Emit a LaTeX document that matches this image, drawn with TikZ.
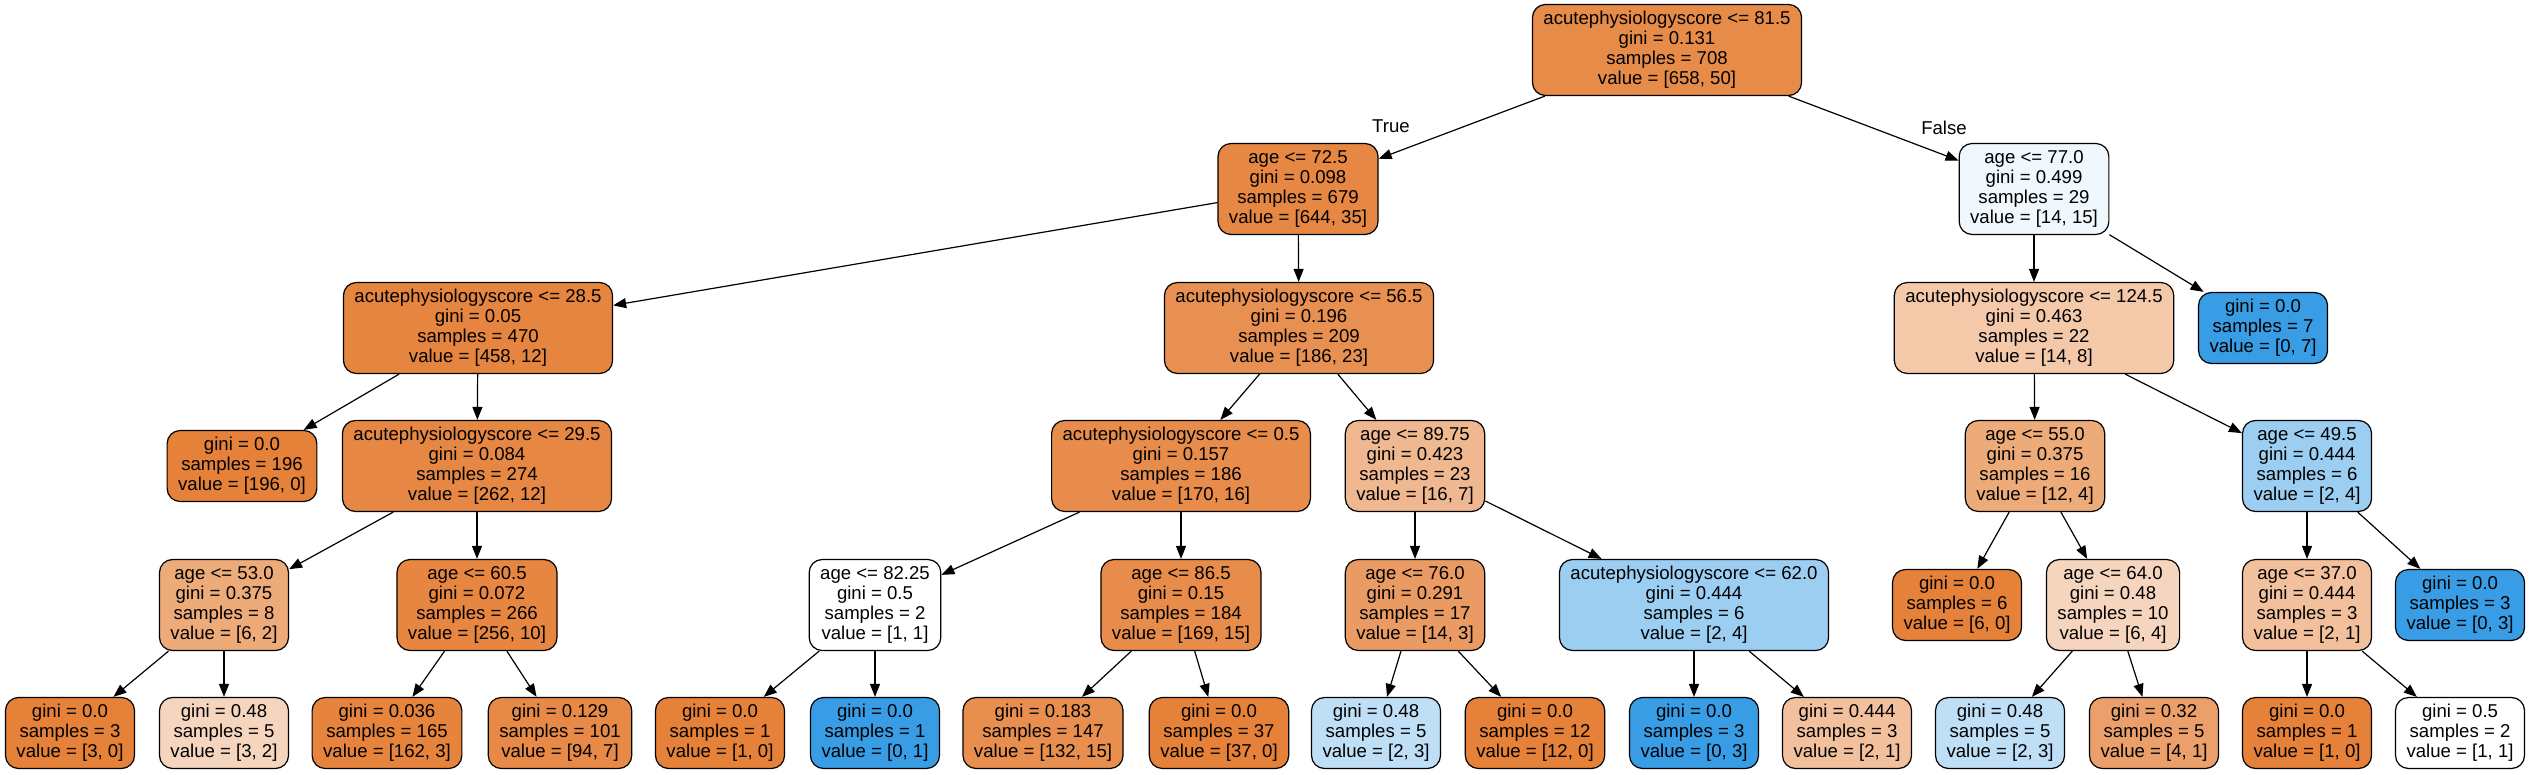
\documentclass[tikz,border=0pt]{standalone}
\usepackage{fontspec}
\setmainfont{Liberation Sans}
\usetikzlibrary{arrows.meta}
\definecolor{clzero}{RGB}{229,129,57}
\definecolor{clone}{RGB}{57,157,229}

\begin{document}
\begin{tikzpicture}[x=1pt, y=-1pt, line join=round, >={Triangle[length=13pt,width=10pt]},
	every node/.style={font=\fontsize{18.6}{20}\selectfont},
	splitbox/.style={draw, line width=1.2pt, rounded corners=13pt, align=center, inner xsep=11pt, inner ysep=0pt, minimum height=91pt},
	leafbox/.style={splitbox, minimum height=71pt},
	link/.style={->, line width=1.2pt}]
	\useasboundingbox (0,0) rectangle (2531,775);
	% level 0 - 2
	\node[splitbox, fill=clzero!92!white] (root) at (1667,50) {acutephysiologyscore <= 81.5\\gini = 0.131\\samples = 708\\value = [658, 50]};
	\node[splitbox, fill=clzero!95!white] (n1) at (1298,189) {age <= 72.5\\gini = 0.098\\samples = 679\\value = [644, 35]};
	\node[splitbox, fill=clone!7!white] (n2) at (2034,189) {age <= 77.0\\gini = 0.499\\samples = 29\\value = [14, 15]};
	\node[splitbox, fill=clzero!97!white] (n3) at (478,328) {acutephysiologyscore <= 28.5\\gini = 0.05\\samples = 470\\value = [458, 12]};
	\node[splitbox, fill=clzero!88!white] (n4) at (1299,328) {acutephysiologyscore <= 56.5\\gini = 0.196\\samples = 209\\value = [186, 23]};
	\node[splitbox, fill=clzero!43!white] (n5) at (2034,328) {acutephysiologyscore <= 124.5\\gini = 0.463\\samples = 22\\value = [14, 8]};
	\node[leafbox, fill=clone] (n6) at (2263,328) {gini = 0.0\\samples = 7\\value = [0, 7]};
	% level 3
	\node[leafbox, fill=clzero] (n7) at (242,466) {gini = 0.0\\samples = 196\\value = [196, 0]};
	\node[splitbox, fill=clzero!95!white] (n8) at (477,466) {acutephysiologyscore <= 29.5\\gini = 0.084\\samples = 274\\value = [262, 12]};
	\node[splitbox, fill=clzero!91!white] (n9) at (1181,466) {acutephysiologyscore <= 0.5\\gini = 0.157\\samples = 186\\value = [170, 16]};
	\node[splitbox, fill=clzero!56!white] (n10) at (1415,466) {age <= 89.75\\gini = 0.423\\samples = 23\\value = [16, 7]};
	\node[splitbox, fill=clzero!67!white] (n11) at (2035,466) {age <= 55.0\\gini = 0.375\\samples = 16\\value = [12, 4]};
	\node[splitbox, fill=clone!50!white] (n12) at (2307,466) {age <= 49.5\\gini = 0.444\\samples = 6\\value = [2, 4]};
	% level 4
	\node[splitbox, fill=clzero!67!white] (n13) at (224,605) {age <= 53.0\\gini = 0.375\\samples = 8\\value = [6, 2]};
	\node[splitbox, fill=clzero!96!white] (n14) at (477,605) {age <= 60.5\\gini = 0.072\\samples = 266\\value = [256, 10]};
	\node[splitbox, fill=white] (n15) at (875,605) {age <= 82.25\\gini = 0.5\\samples = 2\\value = [1, 1]};
	\node[splitbox, fill=clzero!91!white] (n16) at (1181,605) {age <= 86.5\\gini = 0.15\\samples = 184\\value = [169, 15]};
	\node[splitbox, fill=clzero!79!white] (n17) at (1415,605) {age <= 76.0\\gini = 0.291\\samples = 17\\value = [14, 3]};
	\node[splitbox, fill=clone!50!white] (n18) at (1694,605) {acutephysiologyscore <= 62.0\\gini = 0.444\\samples = 6\\value = [2, 4]};
	\node[leafbox, fill=clzero] (n19) at (1957,605) {gini = 0.0\\samples = 6\\value = [6, 0]};
	\node[splitbox, fill=clzero!33!white] (n20) at (2113,605) {age <= 64.0\\gini = 0.48\\samples = 10\\value = [6, 4]};
	\node[splitbox, fill=clzero!50!white] (n21) at (2307,605) {age <= 37.0\\gini = 0.444\\samples = 3\\value = [2, 1]};
	\node[leafbox, fill=clone] (n22) at (2460,605) {gini = 0.0\\samples = 3\\value = [0, 3]};
	% leaves
	\node[leafbox, fill=clzero] (l1) at (70,733) {gini = 0.0\\samples = 3\\value = [3, 0]};
	\node[leafbox, fill=clzero!33!white] (l2) at (224,733) {gini = 0.48\\samples = 5\\value = [3, 2]};
	\node[leafbox, fill=clzero!98!white] (l3) at (387,733) {gini = 0.036\\samples = 165\\value = [162, 3]};
	\node[leafbox, fill=clzero!93!white] (l4) at (560,733) {gini = 0.129\\samples = 101\\value = [94, 7]};
	\node[leafbox, fill=clzero] (l5) at (720,733) {gini = 0.0\\samples = 1\\value = [1, 0]};
	\node[leafbox, fill=clone] (l6) at (875,733) {gini = 0.0\\samples = 1\\value = [0, 1]};
	\node[leafbox, fill=clzero!89!white] (l7) at (1043,733) {gini = 0.183\\samples = 147\\value = [132, 15]};
	\node[leafbox, fill=clzero] (l8) at (1219,733) {gini = 0.0\\samples = 37\\value = [37, 0]};
	\node[leafbox, fill=clone!33!white] (l9) at (1376,733) {gini = 0.48\\samples = 5\\value = [2, 3]};
	\node[leafbox, fill=clzero] (l10) at (1535,733) {gini = 0.0\\samples = 12\\value = [12, 0]};
	\node[leafbox, fill=clone] (l11) at (1694,733) {gini = 0.0\\samples = 3\\value = [0, 3]};
	\node[leafbox, fill=clzero!50!white] (l12) at (1847,733) {gini = 0.444\\samples = 3\\value = [2, 1]};
	\node[leafbox, fill=clone!33!white] (l13) at (2000,733) {gini = 0.48\\samples = 5\\value = [2, 3]};
	\node[leafbox, fill=clzero!75!white] (l14) at (2154,733) {gini = 0.32\\samples = 5\\value = [4, 1]};
	\node[leafbox, fill=clzero] (l15) at (2307,733) {gini = 0.0\\samples = 1\\value = [1, 0]};
	\node[leafbox, fill=white] (l16) at (2460,733) {gini = 0.5\\samples = 2\\value = [1, 1]};
	% edges
	\foreach \a/\b in {root/n1, root/n2, n1/n3, n1/n4, n2/n5, n2/n6, n3/n7, n3/n8, n4/n9, n4/n10,
		n5/n11, n5/n12, n8/n13, n8/n14, n9/n15, n9/n16, n10/n17, n10/n18, n11/n19, n11/n20,
		n12/n21, n12/n22, n13/l1, n13/l2, n14/l3, n14/l4, n15/l5, n15/l6, n16/l7, n16/l8,
		n17/l9, n17/l10, n18/l11, n18/l12, n20/l13, n20/l14, n21/l15, n21/l16}{
		\draw[link] (\a) -- (\b);
	}
	\node (ltrue) at (1391,126) {True};
	\node (lfalse) at (1944,128) {False};
\end{tikzpicture}
\end{document}
